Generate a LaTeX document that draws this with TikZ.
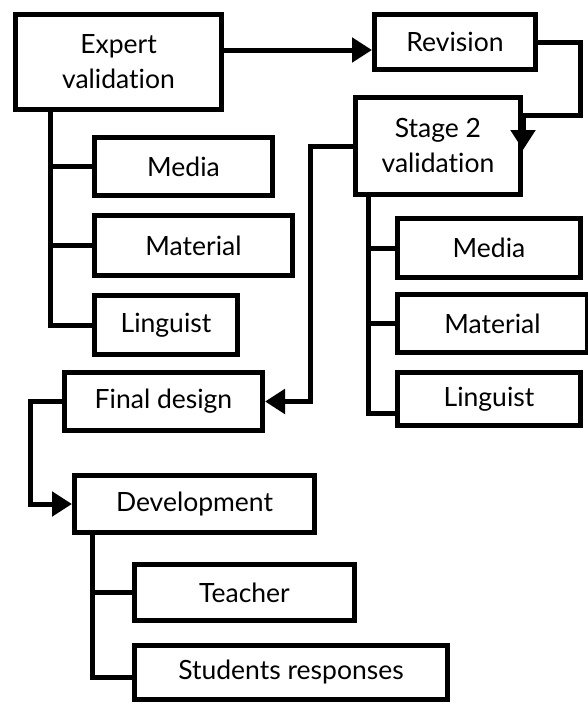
\documentclass[tikz,border=0pt]{standalone}
\usepackage{fontspec}
\setmainfont[Ligatures=NoCommon]{Lato}
\usetikzlibrary{arrows.meta}
\begin{document}
\begin{tikzpicture}[x=1pt,y=-1pt,
  bx/.style={draw=black,line width=5pt,fill=white,inner sep=0pt,align=center,
    font=\fontsize{26.5}{35}\selectfont},
  conn/.style={draw=black,line width=5pt},
  arr/.style={conn,-{Triangle[length=20pt,width=24pt]}}]
\useasboundingbox (0,0) rectangle (588,704);
% nodes
\node[bx,minimum width=206pt,minimum height=95pt] (exp) at (118.5,62) {Expert\\validation};
\node[bx,minimum width=161pt,minimum height=55pt] (rev) at (455,42) {Revision};
\node[bx,minimum width=165pt,minimum height=97pt] (st2) at (438,146) {Stage 2\\validation};
\node[bx,minimum width=178pt,minimum height=58pt] (m1) at (183.5,166.5) {Media};
\node[bx,minimum width=198pt,minimum height=60pt] (t1) at (193.5,245.5) {Material};
\node[bx,minimum width=143pt,minimum height=59pt] (l1) at (166,325) {Linguist};
\node[bx,minimum width=183pt,minimum height=59pt] (m2) at (489,248) {Media};
\node[bx,minimum width=190pt,minimum height=58pt] (t2) at (492.5,323.5) {Material};
\node[bx,minimum width=183pt,minimum height=53pt] (l2) at (489,399) {Linguist};
\node[bx,minimum width=198pt,minimum height=58pt] (fd) at (163.5,401.5) {Final design};
\node[bx,minimum width=240pt,minimum height=57pt] (dev) at (194.5,504) {Development};
\node[bx,minimum width=220pt,minimum height=56pt] (tea) at (244.5,592.5) {Teacher};
\node[bx,minimum width=313pt,minimum height=54pt] (stu) at (291,672.5) {Students responses};
% helper coordinates
\coordinate (ta) at (50,0);
\coordinate (tb) at (368,0);
\coordinate (tc) at (92,0);
\coordinate (a1) at (0,50);
\coordinate (c1) at (580,115);
\coordinate (c2) at (310,0);
\coordinate (c3) at (30,0);
\coordinate (b2) at (0,413);
\coordinate (b3) at (0,677);
% trunks and branches
\draw[conn] (ta |- exp.south) |- (l1.west);
\draw[conn] (ta |- m1.west) -- (m1.west);
\draw[conn] (ta |- t1.west) -- (t1.west);
\draw[conn] (tb |- st2.south) |- (b2 -| l2.west);
\draw[conn] (tb |- m2.west) -- (m2.west);
\draw[conn] (tb |- t2.west) -- (t2.west);
\draw[conn] (tc |- dev.south) |- (b3 -| stu.west);
\draw[conn] (tc |- tea.west) -- (tea.west);
% arrows
\draw[arr] (a1 -| exp.east) -- (a1 -| rev.west);
\draw[arr] (rev.east) -| (c1) -- (c1 -| st2.east) -- ([yshift=-4pt]st2.east);
\draw[arr] (st2.west) -| (c2 |- fd.east) -- (fd.east);
\draw[arr] (fd.west) -| (c3 |- dev.west) -- (dev.west);
\end{tikzpicture}
\end{document}
